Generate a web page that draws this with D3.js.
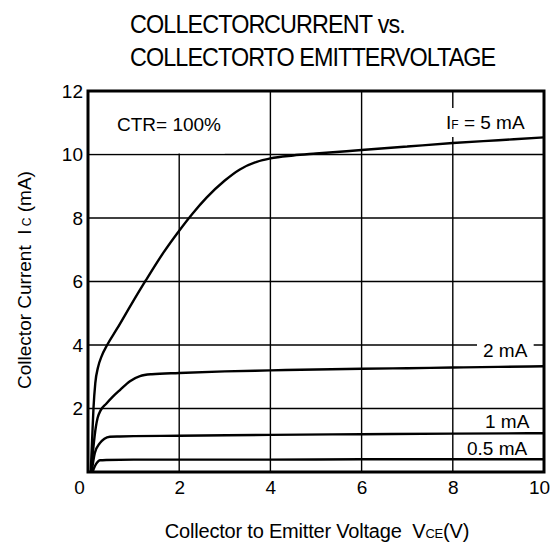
<!DOCTYPE html>
<html>
<head>
<meta charset="utf-8">
<script src="https://cdn.jsdelivr.net/npm/d3@7"></script>
<style>
  body { margin: 0; background: #fff; }
  text { font-family: "Liberation Sans", Arial, sans-serif; fill: #000; }
</style>
</head>
<body>
<svg width="555" height="548"></svg>
<script>
// tick values
const xTicks = [0, 2, 4, 6, 8, 10];
const yTicks = [2, 4, 6, 8, 10, 12];

// IF = 5 mA
const v5 = [0.06, 0.09, 0.12, 0.16, 0.22, 0.3, 0.42, 0.64, 0.95, 1.27, 1.65, 2.0, 2.3, 2.6, 3.0, 3.33, 3.7, 4.0, 4.5, 5, 6, 7, 8, 9, 10];
const i5 = [0, 1.0, 2.0, 2.8, 3.3, 3.65, 4.0, 4.52, 5.28, 6.04, 6.9, 7.6, 8.15, 8.64, 9.18, 9.53, 9.77, 9.88, 9.97, 10.03, 10.14, 10.25, 10.36, 10.45, 10.54];
// IF = 2 mA
const v2 = [0.07, 0.12, 0.17, 0.21, 0.28, 0.4, 0.55, 0.7, 0.92, 1.14, 1.4, 2, 3, 4, 5, 6, 7, 8, 9, 10];
const i2 = [0, 0.8, 1.4, 1.7, 1.95, 2.15, 2.38, 2.58, 2.86, 3.02, 3.08, 3.12, 3.17, 3.2, 3.23, 3.25, 3.27, 3.29, 3.31, 3.33];
// IF = 1 mA
const v1 = [0.08, 0.15, 0.26, 0.36, 0.48, 0.7, 1, 2, 4, 6, 8, 10];
const i1 = [0, 0.6, 0.91, 1.05, 1.11, 1.12, 1.13, 1.14, 1.17, 1.19, 1.21, 1.22];
// IF = 0.5 mA
const v05 = [0.1, 0.15, 0.2, 0.26, 0.4, 1, 2, 4, 6, 8, 10];
const i05 = [0, 0.18, 0.3, 0.37, 0.38, 0.39, 0.39, 0.39, 0.4, 0.4, 0.4];

const svg = d3.select("svg");
const plotLeft = 88, plotRight = 544, plotTop = 91, plotBottom = 472;

const x = d3.scaleLinear().domain([0, 10]).range([plotLeft, plotRight]);
const y = d3.scaleLinear().domain([0, 12]).range([plotBottom, plotTop]);

// title - narrow, tall lettering
function titleLine(yp, parts, width) {
    const g = svg.append("g");
    const t = g.append("text").attr("x", 0).attr("y", yp)
        .attr("xml:space", "preserve")
        .style("font-size", "26px").style("letter-spacing", "-1px");
    parts.forEach(p => {
        const s = t.append("tspan").text(p.t);
        if (p.tight) s.style("word-spacing", "-7px");
    });
    const w = t.node().getBBox().width;
    g.attr("transform", `translate(130,0) scale(${width / w},1)`);
}
titleLine(33, [{t: "COLLECTOR CURRENT", tight: true}, {t: " vs."}], 275);
titleLine(66, [{t: "COLLECTOR ", tight: true}, {t: "TO EMITTER"}, {t: " VOLTAGE", tight: true}], 366);

// grid
svg.append("g").selectAll("line")
    .data(xTicks.slice(1, -1))
    .enter().append("line")
    .attr("x1", d => x(d)).attr("x2", d => x(d))
    .attr("y1", y(0)).attr("y2", y(12))
    .attr("stroke", "#000").attr("stroke-width", 1.4);
svg.append("g").selectAll("line")
    .data(yTicks.slice(0, -1))
    .enter().append("line")
    .attr("y1", d => y(d)).attr("y2", d => y(d))
    .attr("x1", x(0)).attr("x2", x(10))
    .attr("stroke", "#000").attr("stroke-width", 1.4);

// white box under the CTR note
svg.append("rect")
    .attr("x", x(0)).attr("y", y(12))
    .attr("width", x(3) - x(0)).attr("height", y(10) - y(12) - 1)
    .attr("fill", "#fff");

// curves
const line = d3.line()
    .x(d => x(d[0]))
    .y(d => y(d[1]))
    .curve(d3.curveMonotoneX);

const curves = [[v5, i5], [v2, i2], [v1, i1], [v05, i05]];
svg.append("g").selectAll("path")
    .data(curves)
    .enter().append("path")
    .attr("d", c => line(d3.zip(c[0], c[1])))
    .attr("fill", "none")
    .attr("stroke", "#000")
    .attr("stroke-width", 2.4);

// labels with white backing
function label(xp, yp, parts, pad) {
    const g = svg.append("g");
    const bg = g.append("rect").attr("fill", "#fff");
    const t = g.append("text").attr("x", xp).attr("y", yp).style("font-size", "19px").attr("xml:space", "preserve");
    parts.forEach(p => {
        const s = t.append("tspan").text(p.t);
        if (p.sub) s.style("font-size", "12px");
    });
    if (pad) {
        const b = t.node().getBBox();
        bg.attr("x", b.x - pad).attr("y", b.y - pad + 2)
          .attr("width", b.width + pad * 2).attr("height", b.height + pad * 2 - 4);
    }
}

label(117, 131, [{t: "CTR= 100%"}], 0);
label(446, 129, [{t: "I"}, {t: "F", sub: true}, {t: " = 5 mA"}], 6);
label(483, 357, [{t: "2 mA"}], 6);
label(485, 428, [{t: "1 mA"}], 0);
label(467, 455, [{t: "0.5 mA"}], 0);

// frame
svg.append("rect")
    .attr("x", x(0)).attr("y", y(12))
    .attr("width", x(10) - x(0)).attr("height", y(0) - y(12))
    .attr("fill", "none").attr("stroke", "#000").attr("stroke-width", 3);

// axes
const yAxis = svg.append("g")
    .attr("transform", `translate(${plotLeft},0)`)
    .call(d3.axisLeft(y).tickValues(yTicks).tickSize(0).tickPadding(5));
const xAxis = svg.append("g")
    .attr("transform", `translate(0,${plotBottom})`)
    .call(d3.axisBottom(x).tickValues(xTicks).tickSize(0).tickPadding(9));
[yAxis, xAxis].forEach(a => {
    a.select(".domain").remove();
    a.attr("font-family", null).attr("font-size", null);
    a.selectAll("text").style("font-size", "19px");
});
xAxis.selectAll("text").filter(d => d === 0).attr("dx", "-9");
xAxis.selectAll("text").filter(d => d === 10).attr("dx", "-5");

// axis titles
const yl = svg.append("text")
    .attr("transform", "translate(31,280) rotate(-90)")
    .attr("text-anchor", "middle")
    .attr("xml:space", "preserve")
    .style("font-size", "19px");
yl.append("tspan").text("Collector Current  I");
yl.append("tspan").style("font-size", "12px").text(" C");
yl.append("tspan").text(" (mA)");

const xl = svg.append("text")
    .attr("x", 317).attr("y", 538)
    .attr("text-anchor", "middle")
    .attr("xml:space", "preserve")
    .style("font-size", "20px")
    .style("letter-spacing", "-0.2px");
xl.append("tspan").text("Collector to Emitter Voltage  V");
xl.append("tspan").style("font-size", "13px").text("CE");
xl.append("tspan").text("(V)");
</script>
</body>
</html>
